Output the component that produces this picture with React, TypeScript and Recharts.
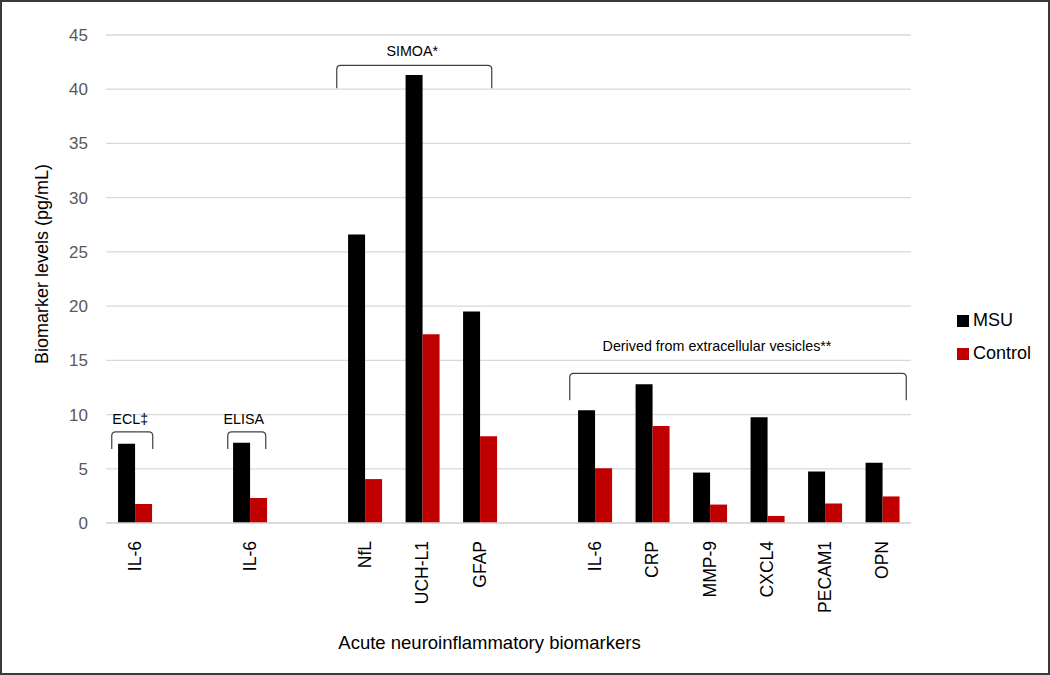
import React from 'react';
import { BarChart, Bar, XAxis, YAxis, CartesianGrid, ReferenceLine } from 'recharts';

// one slot per category, blanks are the spacer columns between assay groups
const categories = ['IL-6', '', 'IL-6', '', 'NfL', 'UCH-L1', 'GFAP', '', 'IL-6', 'CRP', 'MMP-9', 'CXCL4', 'PECAM1', 'OPN'];
const msuValues = [7.3, null, 7.4, null, 26.6, 41.3, 19.5, null, 10.4, 12.8, 4.65, 9.75, 4.75, 5.55];
const controlValues = [1.75, null, 2.3, null, 4.05, 17.4, 8.0, null, 5.05, 8.95, 1.7, 0.65, 1.8, 2.45];
const yTicks = [0, 5, 10, 15, 20, 25, 30, 35, 40, 45];

// assay brackets: label, first and last category index, level (pg/mL)
const groupLabels = ['ECL\u2021', 'ELISA', 'SIMOA*', 'Derived from extracellular vesicles**'];
const groupFirst = [0, 2, 4, 8];
const groupLast = [0, 2, 6, 13];
const groupLevel = [8.4, 8.4, 42.2, 13.8];

const FONT = '"Liberation Sans", Arial, sans-serif';

const data = categories.map((name, i) => ({
  key: `c${i}`,
  name,
  msu: msuValues[i],
  control: controlValues[i],
}));

// bracket look (pixels)
const bracketStyle = [
  { padL: 23, padR: 18, drop: 17, gap: 8, dx: -2 },
  { padL: 22, padR: 16, drop: 17, gap: 8, dx: -3 },
  { padL: 28, padR: 12, drop: 23, gap: 9, dx: -2 },
  { padL: 25, padR: 24, drop: 27, gap: 22, dx: -21 },
];

const makeBracket = (idx: number) => (props: any) => {
  const { x1, x2, y1 } = props;
  const s = bracketStyle[idx];
  const l = x1 - s.padL;
  const r = x2 + s.padR;
  const t = y1;
  const rad = 4;
  const d = `M${l},${t + s.drop} L${l},${t + rad} Q${l},${t} ${l + rad},${t} L${r - rad},${t} Q${r},${t} ${r},${t + rad} L${r},${t + s.drop}`;
  return (
    <g>
      <path d={d} fill="none" stroke="#404040" strokeWidth={1.2} />
      <text x={(l + r) / 2 + s.dx} y={t - s.gap} textAnchor="middle" fontSize={14.3} fontFamily={FONT} fill="#000">
        {groupLabels[idx]}
      </text>
    </g>
  );
};

const XTick = (props: any) => {
  const { x, y, payload } = props;
  const label = categories[payload.index] ?? '';
  return (
    <text
      transform={`translate(${x},${y + 10}) rotate(-90)`}
      textAnchor="end"
      dy="0.35em"
      fontSize={17.5}
      fontFamily={FONT}
      fill="#000"
    >
      {label}
    </text>
  );
};

const legendItems = [
  { name: 'MSU', color: '#000000' },
  { name: 'Control', color: '#c00000' },
];

export default function App() {
  return (
    <div
      style={{
        position: 'fixed',
        left: 0,
        top: 0,
        width: 1050,
        height: 675,
        boxSizing: 'border-box',
        border: '2px solid #3a3a3a',
        background: '#fff',
      }}
    >
      <div style={{ position: 'absolute', left: -2, top: -2 }}>
        <BarChart
          width={1050}
          height={675}
          data={data}
          margin={{ top: 35, right: 139, bottom: 0, left: 0 }}
          barGap={0}
          barCategoryGap="21%"
        >
          <CartesianGrid vertical={false} stroke="#d9d9d9" strokeWidth={1.3} />
          <XAxis
            dataKey="key"
            height={152}
            axisLine={{ stroke: '#d9d9d9', strokeWidth: 1.3 }}
            tickLine={false}
            interval={0}
            tick={<XTick />}
            label={{
              value: 'Acute neuroinflammatory biomarkers',
              position: 'insideBottom',
              offset: 26,
              style: { fontSize: 18.5, fontFamily: FONT, fill: '#000', textAnchor: 'middle' },
              dx: -19,
            }}
          />
          <YAxis
            width={106}
            domain={[0, 45]}
            ticks={yTicks}
            axisLine={false}
            tickLine={false}
            tickSize={0}
            tickMargin={18}
            tick={{ fontSize: 17, fontFamily: FONT, fill: '#595959' }}
            label={{
              value: 'Biomarker levels (pg/mL)',
              angle: -90,
              position: 'insideLeft',
              offset: 42,
              dy: -15,
              style: { fontSize: 18, fontFamily: FONT, fill: '#000', textAnchor: 'middle' },
            }}
          />
          <Bar dataKey="msu" name="MSU" fill="#000000" isAnimationActive={false} />
          <Bar dataKey="control" name="Control" fill="#c00000" isAnimationActive={false} />
          {groupLabels.map((g, i) => (
            <ReferenceLine
              key={g}
              segment={[
                { x: `c${groupFirst[i]}`, y: groupLevel[i] },
                { x: `c${groupLast[i]}`, y: groupLevel[i] },
              ]}
              ifOverflow="visible"
              shape={makeBracket(i)}
            />
          ))}
        </BarChart>
      </div>
      <div
        style={{
          position: 'absolute',
          left: 955,
          top: 302,
          fontFamily: FONT,
          fontSize: 18,
          color: '#000',
        }}
      >
        {legendItems.map((it) => (
          <div key={it.name} style={{ display: 'flex', alignItems: 'center', height: 33 }}>
            <span style={{ width: 12, height: 12, background: it.color, display: 'inline-block', marginRight: 4 }} />
            {it.name}
          </div>
        ))}
      </div>
    </div>
  );
}
